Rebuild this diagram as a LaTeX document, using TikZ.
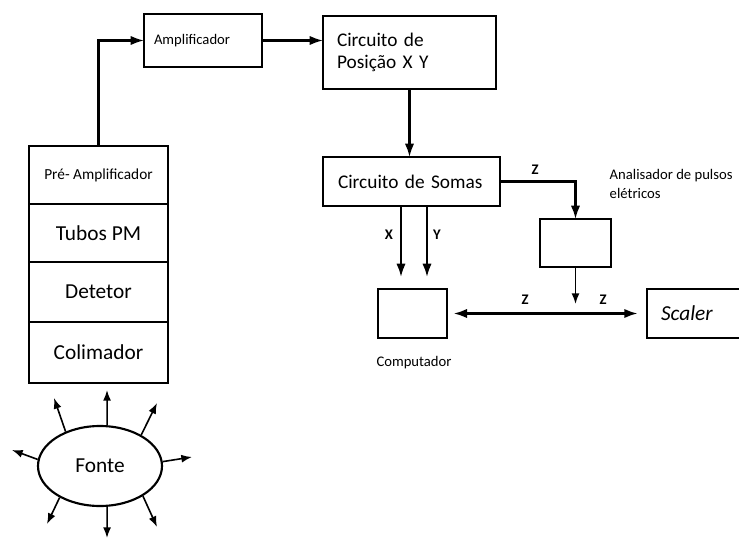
\documentclass[tikz,border=0pt]{standalone}
\usepackage{fontspec}
\setmainfont{Carlito}
\usepackage{tikz}
\usetikzlibrary{shapes,arrows.meta,positioning}
\tikzstyle{block} = [rectangle, draw, line width=1.6pt, inner sep=0pt, outer sep=0pt]
\tikzstyle{lblock} = [block, align=left, font=\fontsize{14.5}{17}\selectfont]
\tikzstyle{sblock} = [block, minimum width=104.25pt, align=center, font=\fontsize{16}{19}\selectfont]
\tikzstyle{line} = [draw, line width=1.6pt]
\tikzstyle{arrow} = [line, -{Latex[length=10pt,width=7pt]}]
\tikzstyle{ray} = [draw, line width=1.2pt, -{Latex[length=8pt,width=6pt]}]
\tikzstyle{sig} = [font=\fontsize{11}{13}\selectfont\bfseries]
\tikzstyle{small} = [font=\fontsize{11}{14}\selectfont]

\begin{document}
\begin{tikzpicture}[x=0.75pt, y=-0.75pt]
	\useasboundingbox (0,0) rectangle (739,542);

	% detector stack
	\node [sblock, minimum height=43.5pt, font=\fontsize{11.5}{14}\selectfont] (pre) at (98.5,175) {Pré- Amplificador};
	\node [sblock, minimum height=43.5pt, below=0pt of pre] (tubos) {Tubos PM};
	\node [sblock, minimum height=45pt, below=0pt of tubos] (det) {Detetor};
	\node [sblock, minimum height=45.75pt, below=0pt of det] (colim) {Colimador};

	\node [ellipse, draw, line width=1.6pt, minimum width=93pt, minimum height=60pt, font=\fontsize{16}{19}\selectfont] (fonte) at (100,466) {Fonte};

	% electronics
	\node [lblock, minimum width=88.5pt, minimum height=39.75pt, inner xsep=7.5pt, text width=73.5pt, font=\fontsize{11}{13}\selectfont] (amp) at (203,40.5) {Amplificador};
	\node [lblock, minimum width=129.75pt, minimum height=54.75pt, inner xsep=10.5pt, text width=108.75pt] (pos) at (409.5,52.5) {Circuito de\\Posição X Y};
	\node [lblock, minimum width=132.75pt, minimum height=36.75pt, inner xsep=11.25pt, text width=110.25pt] (somas) at (411.5,181.5) {Circuito de Somas};
	\node [block, minimum width=53.25pt, minimum height=36pt] (anal) at (575.5,243) {};
	\node [block, minimum width=51.75pt, minimum height=36.75pt] (comp) at (412.5,313.5) {};
	\node [lblock, minimum width=82.5pt, minimum height=36.75pt, inner xsep=10.5pt, text width=61.5pt, font=\fontsize{16}{19}\selectfont\itshape] (scaler) at (702,313.5) {Scaler};

	\node [small, align=left, anchor=west] (analtxt) at (605,184) {Analisador de pulsos\\elétricos};
	\node [small] (comptxt) at (414,363) {Computador};

	\coordinate (xend) at (401,277);
	\coordinate (yend) at (427,277);
	\coordinate (zend) at (575.5,304);

	% connections
	\path [arrow] (pre.north) |- (amp.west);
	\path [arrow] (amp.east) -- (amp.east -| pos.west);
	\path [arrow] (pos.south) -- (pos.south |- somas.north);
	\path [arrow] (somas.east) -| (anal.north);
	\path [arrow] (somas.south -| xend) -- (xend);
	\path [arrow] (somas.south -| yend) -- (yend);
	\path [line, line width=1.2pt, -{Latex[length=8pt,width=6pt]}] (anal.south) -- (zend);
	\path [arrow, {Latex[length=10pt,width=7pt]}-{Latex[length=10pt,width=7pt]}, shorten <=5pt, shorten >=7pt] (comp.east) -- (comp.east -| scaler.west);

	\node [sig] (zs) at (535,170) {Z};
	\node [sig] (xl) at (389,235) {X};
	\node [sig] (yl) at (437,235) {Y};
	\node [sig] (zl) at (525,300) {Z};
	\node [sig] (zr) at (603,300) {Z};

	% rays from the source
	\foreach \a/\tx/\ty in {80/107/390, 135/54/398, 37/157/403, 174/12/450, 4/192/457, 218/47/524, 280/107/538, 325/157/527}
		\path [ray] (fonte.\a) -- (\tx,\ty);
\end{tikzpicture}
\end{document}
